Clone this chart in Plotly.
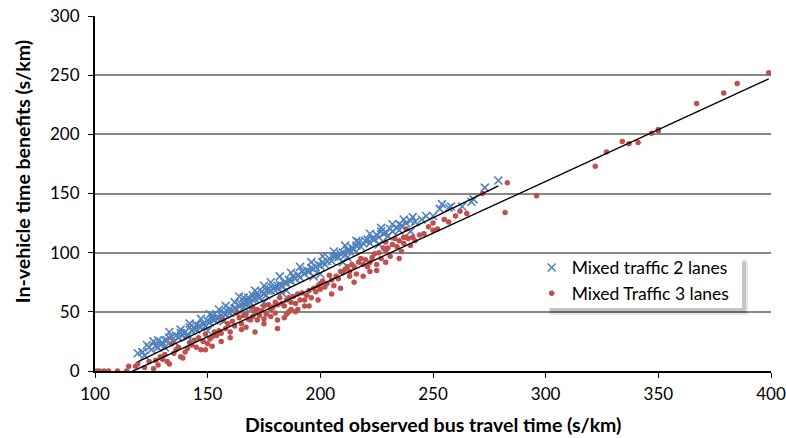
import plotly.graph_objects as go
import numpy as np

# ---- data ----
blue_x = [119,121,122,124,125,126,127,128,129,130,131,132,133,134,135,136,137,138,139,140,
          141,142,143,144,145,145,146,147,148,149,150,150,151,152,152,153,154,155,156,156,
          157,158,159,160,160,161,162,163,164,164,165,166,166,167,168,168,169,170,170,171,
          172,172,173,174,175,175,176,176,177,178,179,180,180,181,182,183,184,185,185,186,
          187,188,189,190,191,192,193,194,195,196,197,198,199,200,200,201,202,203,204,205,
          206,207,208,209,210,210,211,212,213,214,215,216,217,218,219,220,221,222,223,224,
          225,226,227,228,229,230,231,232,234,235,235,236,238,240,240,242,245,247,250,253,
          254,257,258,263,267,268,273,279,
          123,128,133,138,142,147,151,155,158,162,166,171,175,178,182,187,191,196,201,206,
          211,216,222,227,232,237,241,131,141,157,169,183,197,212,226]
blue_y = [15,16,13,20,18,25,21,20,22,24,26,26,28,29,25,30,28,32,30,33,
          31,37,34,36,39,35,38,37,40,38,42,34,41,47,44,43,45,45,47,44,
          49,48,50,52,49,51,53,52,63,55,56,57,54,58,59,62,58,64,60,61,
          63,66,62,67,65,58,68,64,69,68,70,71,68,72,73,72,75,74,68,77,
          76,80,78,81,79,84,82,85,84,87,86,88,90,89,82,92,90,93,95,93,
          97,97,96,99,100,92,98,102,101,104,103,106,109,105,108,110,111,108,112,111,
          115,113,118,116,117,114,120,118,121,124,119,123,125,127,118,126,128,131,131,137,
          141,138,139,139,143,145,155,161,
          22,26,33,35,40,44,48,52,55,58,62,68,72,75,80,83,88,92,97,101,
          106,110,116,121,124,128,130,20,29,42,52,66,80,96,107]

red_x = [100.7,102,104,106,110,114,115,118,119,122,124,126,127,128,129,130,131,132,133,134,
         135,136,137,138,139,140,141,142,143,144,145,146,147,148,149,149,150,151,152,152,
         153,154,155,156,156,157,158,159,160,161,162,163,164,165,166,167,167,168,169,170,
         170,171,172,172,173,174,175,175,176,177,178,178,179,180,180,181,181,181,182,183,
         184,184,185,186,186,187,187,188,189,190,190,191,192,193,193,194,195,196,197,198,
         199,200,200,201,202,203,204,205,206,207,208,209,210,211,212,213,213,214,215,216,
         217,218,219,220,221,222,222,223,224,225,226,227,228,229,229,230,231,232,233,234,
         235,236,237,237,238,238,239,240,241,242,244,246,248,250,250,252,255,257,260,262,
         265,272,282,283,296,322,327,334,337,341,347,350,350,367,379,385,399,
         160,165,175,185,195,205,215,225,235,171,189,199,209,219,229]
red_y = [0,0,0,0,0,0,4,4,6,3,8,2,9,5,12,10,14,8,6,23,
         15,18,20,12,11,16,19,24,22,26,20,28,18,25,18,31,23,27,29,21,
         33,30,34,32,25,43,36,40,33,42,38,49,45,40,47,37,48,44,43,54,
         46,50,43,52,47,51,44,55,48,56,46,52,54,58,49,43,56,36,62,57,
         45,55,60,50,62,52,58,63,57,52,65,60,66,55,60,64,68,62,70,67,
         72,69,74,76,71,74,81,77,72,80,78,84,83,86,88,80,84,90,88,82,
         92,95,90,94,88,84,92,96,99,90,100,95,104,109,102,104,97,107,112,105,
         110,101,108,113,113,120,112,106,113,110,115,116,122,119,125,120,128,126,131,135,
         133,150,134,159,148,173,185,194,192,193,201,203,204,226,235,243,252,
         28,35,40,48,55,65,75,85,95,33,50,60,70,80,92]

blue_name = "Mixed traffic 2 lanes"
red_name = "Mixed Traffic 3 lanes"
blue_trend = (0.93, -103.0)   # slope, intercept
red_trend = (0.875, -102.3)

x_ticks = [100, 150, 200, 250, 300, 350, 400]
y_ticks = [0, 50, 100, 150, 200, 250, 300]

BLUE = "#4F81BD"
RED = "#C0504D"
FONT = "Lato"

fig = go.Figure()
fig.add_trace(go.Scatter(x=blue_x, y=blue_y, mode="markers", name=blue_name,
                         marker=dict(symbol="x-thin", size=8, color=BLUE,
                                     line=dict(width=1.6, color=BLUE))))
fig.add_trace(go.Scatter(x=red_x, y=red_y, mode="markers", name=red_name,
                         marker=dict(symbol="circle", size=5.5, color=RED)))

for xs, (m, c) in ((blue_x, blue_trend), (red_x, red_trend)):
    tx = np.array([min(xs), max(xs)])
    fig.add_trace(go.Scatter(x=tx, y=m * tx + c, mode="lines", showlegend=False,
                             line=dict(color="black", width=1.4), hoverinfo="skip"))

# legend box with soft shadow (drawn as shapes above the data)
fig.add_shape(type="rect", xref="paper", yref="paper",
              x0=0.6716, x1=0.9660, y0=0.1577, y1=0.3070,
              fillcolor="rgba(0,0,0,0.10)", line_width=0, layer="above")
fig.add_shape(type="rect", xref="paper", yref="paper",
              x0=0.6730, x1=0.9630, y0=0.1634, y1=0.3126,
              fillcolor="rgba(0,0,0,0.14)", line_width=0, layer="above")
fig.add_shape(type="rect", xref="paper", yref="paper",
              x0=0.6686, x1=0.9571, y0=0.1775, y1=0.3211,
              fillcolor="white", line_width=0, layer="above")

# axis titles as annotations for exact placement
fig.add_annotation(text="<b>Discounted observed bus travel time (s/km)</b>",
                   xref="paper", yref="paper", x=0.5, y=-0.152,
                   xanchor="center", yanchor="middle", showarrow=False,
                   font=dict(size=19.5, family=FONT, color="black"))
fig.add_annotation(text="<b>In-vehicle time benefits (s/km)</b>",
                   xref="paper", yref="paper", x=-0.108, y=0.563, textangle=-90,
                   xanchor="center", yanchor="middle", showarrow=False,
                   font=dict(size=19.5, family=FONT, color="black"))

fig.update_layout(
    width=786, height=438,
    margin=dict(l=95, r=15, t=16, b=67),
    paper_bgcolor="white", plot_bgcolor="white",
    font=dict(family=FONT, size=17, color="black"),
    legend=dict(x=0.646, y=0.342, xanchor="left", yanchor="top",
                bgcolor="rgba(0,0,0,0)", borderwidth=0, font=dict(size=17.5),
                tracegroupgap=0),
    xaxis=dict(range=[100, 400], tickvals=x_ticks, showgrid=False,
               showline=True, linecolor="black", linewidth=2,
               ticks="outside", ticklen=5, tickcolor="black", tickwidth=1,
               ticklabelstandoff=2, ticklabeloverflow="allow",
               zeroline=False, automargin=False),
    yaxis=dict(range=[0, 300], tickvals=y_ticks, showgrid=True,
               gridcolor="#878787", gridwidth=2,
               showline=True, linecolor="black", linewidth=2,
               ticks="outside", ticklen=5, tickcolor="black", tickwidth=1,
               ticklabelstandoff=5,
               zeroline=False, automargin=False),
)

fig.write_html("out.html", config={"displayModeBar": False},
               post_script="document.body.style.margin='0';document.body.style.padding='0';")
